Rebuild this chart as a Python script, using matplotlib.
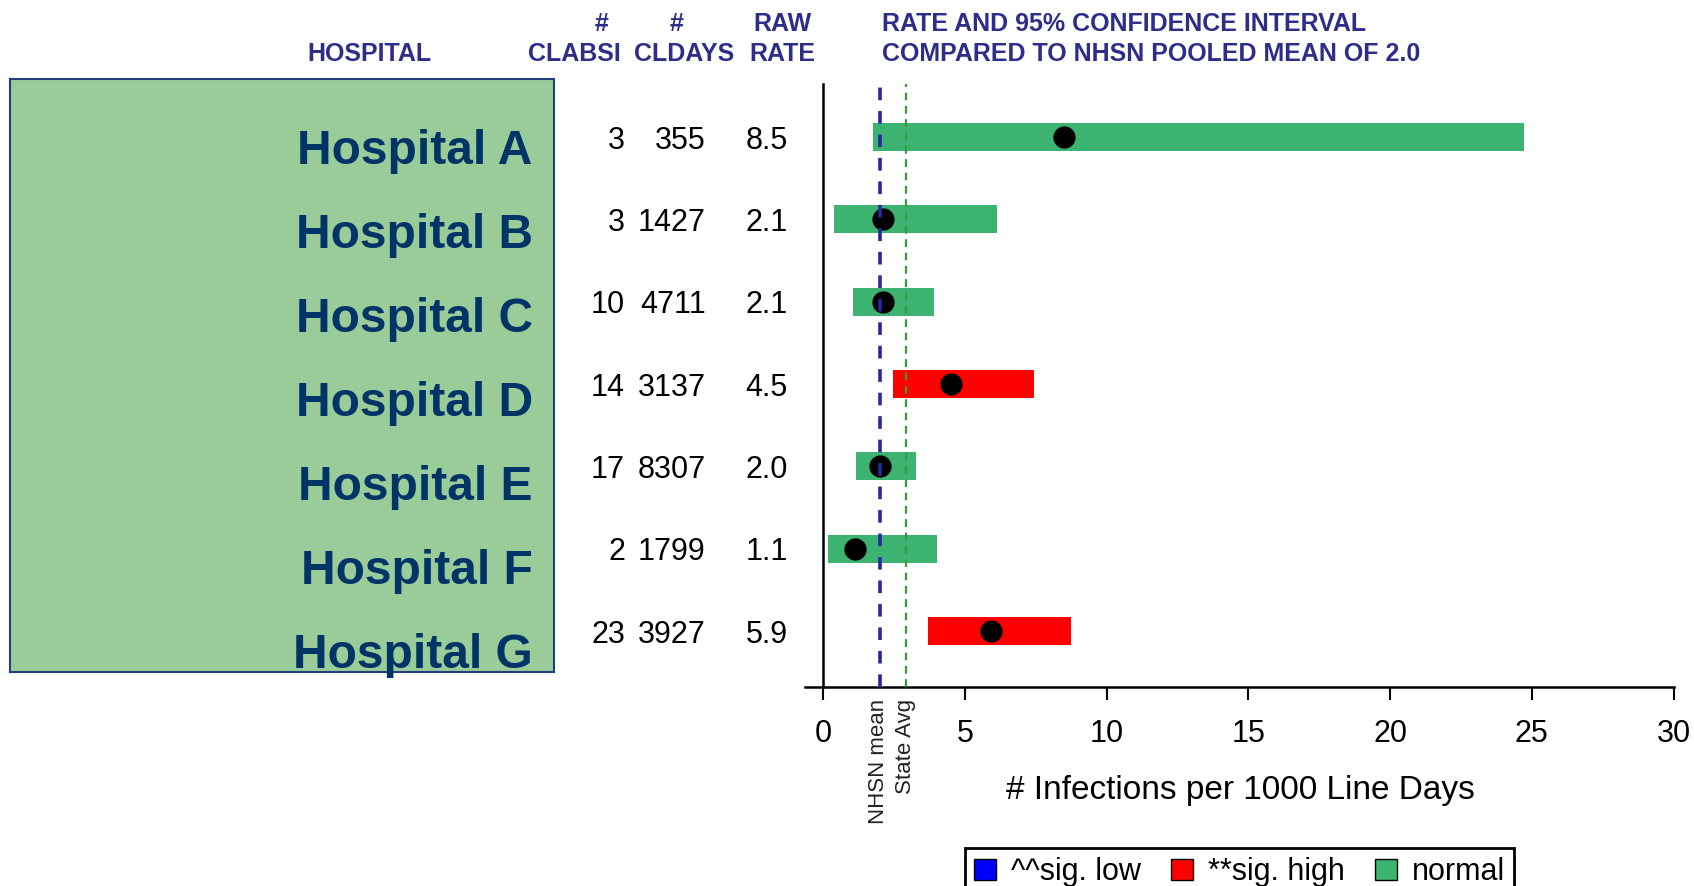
import matplotlib
matplotlib.use('Agg')
import matplotlib.pyplot as plt
from matplotlib.patches import Patch
import numpy as np

plt.rcParams['font.family'] = ['Liberation Sans', 'DejaVu Sans']

# Dados
hospitals = ['Hospital A', 'Hospital B', 'Hospital C', 'Hospital D',
             'Hospital E', 'Hospital F', 'Hospital G']
clabsi = [3, 3, 10, 14, 17, 2, 23]
cldays = [355, 1427, 4711, 3137, 8307, 1799, 3927]
raw_rate = [8.5, 2.1, 2.1, 4.5, 2.0, 1.1, 5.9]
ci_low = [1.75, 0.38, 1.03, 2.44, 1.14, 0.15, 3.70]
ci_high = [24.74, 6.14, 3.89, 7.43, 3.28, 4.00, 8.73]
status = ['normal', 'normal', 'normal', 'high', 'normal', 'normal', 'high']
nhsn_mean = 2.0
state_avg = 2.9
xticks = [0, 5, 10, 15, 20, 25, 30]

colors = {'low': '#0000FF', 'high': '#FF0000', 'normal': '#3CB371'}
navy = '#2E2E8A'

W, H = 1694, 886
fig = plt.figure(figsize=(W / 100, H / 100), dpi=100)

def fx(px):
    return px / W

def fy(py):
    return (H - py) / H

# caixa verde com os nomes dos hospitais
bx = fig.add_axes([fx(10), fy(672), fx(544), 593 / H])
bx.set_facecolor('#99CC99')
for s in bx.spines.values():
    s.set_color('#1F3F7F')
    s.set_linewidth(1.5)
bx.set_xticks([])
bx.set_yticks([])
bx.set_xlim(0, 1)
bx.set_ylim(0.953, 8.01)
n = len(hospitals)
for i, name in enumerate(hospitals):
    bx.text(0.961, n - i, name, ha='right', va='baseline', fontsize=34.5,
            fontweight='bold', color='#003366')

# grafico principal
ax = fig.add_axes([fx(805), fy(687), fx(1673.5 - 805), (687 - 84) / H])
y = np.arange(n, 0, -1)
lo = np.array(ci_low)
hi = np.array(ci_high)
ax.barh(y, hi - lo, left=lo, height=0.34,
        color=[colors[s] for s in status], zorder=2)
ax.plot(raw_rate, y, 'o', color='black', markersize=15, zorder=3)
ax.axvline(nhsn_mean, color='#2828A0', linestyle=(0, (3.5, 3)), linewidth=2.6, zorder=4)
ax.axvline(state_avg, color='#3A9A3A', linestyle=(0, (3.5, 2.5)), linewidth=1.6, zorder=4)

ax.set_xlim(-0.65, 30)
ax.set_ylim(0.32, 7.646)
ax.spines['top'].set_visible(False)
ax.spines['right'].set_visible(False)
ax.spines['left'].set_position(('data', 0))
ax.spines['left'].set_linewidth(1.8)
ax.spines['bottom'].set_linewidth(1.8)
ax.set_yticks([])
ax.set_xticks(xticks)
ax.tick_params(axis='x', length=9, width=1.5, labelsize=22, pad=14)

# rotulos das linhas de referencia
ax.text(nhsn_mean - 0.05, -0.02, 'NHSN mean', rotation=90, ha='center', va='top',
        fontsize=16, color='#222222', transform=ax.get_xaxis_transform())
ax.text(state_avg, -0.02, 'State Avg', rotation=90, ha='center', va='top',
        fontsize=16, color='#222222', transform=ax.get_xaxis_transform())
ax.text(14.7, -0.171, '# Infections per 1000 Line Days', ha='center', va='center',
        fontsize=24, transform=ax.get_xaxis_transform())

# colunas de numeros
num = dict(ha='right', va='center_baseline', fontsize=22, clip_on=False)
for i in range(n):
    ax.text(-7.0, y[i], str(clabsi[i]), **num)
    ax.text(-4.16, y[i], str(cldays[i]), **num)
    ax.text(-1.26, y[i], '%.1f' % raw_rate[i], **num)

# cabecalhos
hdr = dict(fontsize=18, fontweight='bold', color=navy, va='center',
           family=['Liberation Sans Narrow', 'Liberation Sans'])
fig.text(fx(369.5), fy(54), 'HOSPITAL', ha='center', **hdr)
fig.text(fx(602), fy(24), '#', ha='center', **hdr)
fig.text(fx(574), fy(54), 'CLABSI', ha='center', **hdr)
fig.text(fx(677), fy(24), '#', ha='center', **hdr)
fig.text(fx(684), fy(54), 'CLDAYS', ha='center', **hdr)
fig.text(fx(782), fy(24), 'RAW', ha='center', **hdr)
fig.text(fx(782), fy(54), 'RATE', ha='center', **hdr)
fig.text(fx(881.6), fy(24), 'RATE AND 95% CONFIDENCE INTERVAL', ha='left', **hdr)
fig.text(fx(881.6), fy(54), 'COMPARED TO NHSN POOLED MEAN OF 2.0', ha='left', **hdr)

# legenda
handles = [Patch(facecolor=colors['low'], edgecolor='black'),
           Patch(facecolor=colors['high'], edgecolor='black'),
           Patch(facecolor=colors['normal'], edgecolor='black')]
leg = fig.legend(handles, ['^^sig. low', '**sig. high', 'normal'], loc='upper left',
                 bbox_to_anchor=(fx(965), fy(848)), ncol=3, fontsize=22,
                 fancybox=False, edgecolor='black', framealpha=1,
                 handlelength=0.7, handleheight=0.7, handletextpad=0.5,
                 columnspacing=1.0, borderpad=0.3, borderaxespad=0)
leg.get_frame().set_linewidth(2)

fig.savefig('out.png', dpi=100)
